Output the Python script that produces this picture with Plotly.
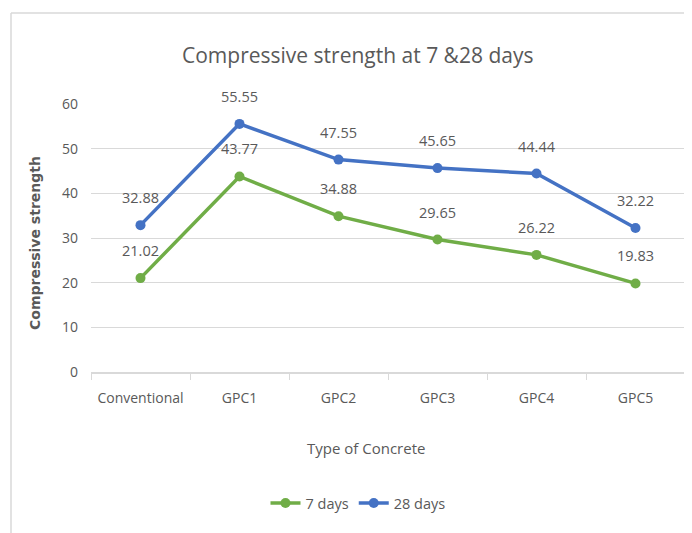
import plotly.graph_objects as go

categories = ["Conventional", "GPC1", "GPC2", "GPC3", "GPC4", "GPC5"]
days7 = [21.02, 43.77, 34.88, 29.65, 26.22, 19.83]
days28 = [32.88, 55.55, 47.55, 45.65, 44.44, 32.22]
series_names = ["7 days", "28 days"]
colors = ["#70ad47", "#4472c4"]

OFF = 8  # page body margin
W, H = 692 - OFF, 533 - OFF
L, R, T, B = 91 - OFF, 7, 104 - OFF, 161
pw, ph = W - L - R, H - T - B

def px2paper_x(px):
    return (px - OFF - L) / pw

def py2paper_y(py):
    return (H - B - (py - OFF)) / ph

font_main = "Open Sans, sans-serif"
gray = "#595959"

fig = go.Figure()
for name, vals, col in zip(series_names, [days7, days28], colors):
    fig.add_trace(go.Scatter(
        x=categories, y=vals, name=name, mode="lines+markers",
        line=dict(color=col, width=3.5),
        marker=dict(color=col, size=10),
    ))

annotations = []
for vals in [days7, days28]:
    for c, v in zip(categories, vals):
        annotations.append(dict(
            x=c, y=v, xref="x", yref="y", text=f"{v:.2f}", showarrow=False,
            yanchor="bottom", yshift=16, font=dict(size=14.5, color=gray, family=font_main)))

annotations.append(dict(text="Compressive strength at 7 &28 days", x=px2paper_x(357), y=py2paper_y(55),
                        xref="paper", yref="paper", showarrow=False, xanchor="center", yanchor="middle",
                        font=dict(size=21, color=gray, family=font_main)))
annotations.append(dict(text="Type of Concrete", x=px2paper_x(366), y=py2paper_y(448),
                        xref="paper", yref="paper", showarrow=False, xanchor="center", yanchor="middle",
                        font=dict(size=15, color=gray, family=font_main)))
annotations.append(dict(text="<b>Compressive strength</b>", x=px2paper_x(35), y=py2paper_y(243),
                        xref="paper", yref="paper", showarrow=False, xanchor="center", yanchor="middle",
                        textangle=-90, font=dict(size=14, color=gray, family="DejaVu Sans, sans-serif")))

shapes = [
    dict(type="line", xref="paper", yref="paper", x0=px2paper_x(11), x1=px2paper_x(700),
         y0=py2paper_y(13), y1=py2paper_y(13), line=dict(color="#d9d9d9", width=1.5)),
    dict(type="line", xref="paper", yref="paper", x0=px2paper_x(11), x1=px2paper_x(11),
         y0=py2paper_y(13), y1=py2paper_y(540), line=dict(color="#d9d9d9", width=1.5)),
]

fig.update_layout(
    width=W, height=H, margin=dict(l=L, r=R, t=T, b=B, autoexpand=False),
    paper_bgcolor="white", plot_bgcolor="white",
    annotations=annotations, shapes=shapes,
    showlegend=True,
    legend=dict(orientation="h", x=px2paper_x(358), xanchor="center", y=py2paper_y(503), yanchor="middle",
                font=dict(size=14.5, color=gray, family=font_main), tracegroupgap=0),
    font=dict(family=font_main, color=gray),
)
fig.update_xaxes(
    type="category", showgrid=False, showline=True, linecolor="#d9d9d9", linewidth=1.5,
    ticks="outside", tickson="boundaries", ticklen=6, tickcolor="#d9d9d9", tickangle=0,
    automargin=False, ticklabelstandoff=12,
    tickfont=dict(size=14, color=gray, family=font_main), range=[-0.5, 5.5],
)
fig.update_yaxes(
    range=[0, 60], dtick=10, showgrid=True, gridcolor="#d9d9d9", gridwidth=1.2,
    zeroline=False, showline=False, ticks="", ticklabelstandoff=12, automargin=False,
    tickfont=dict(size=14, color=gray, family=font_main),
)

fig.write_html("out.html")
